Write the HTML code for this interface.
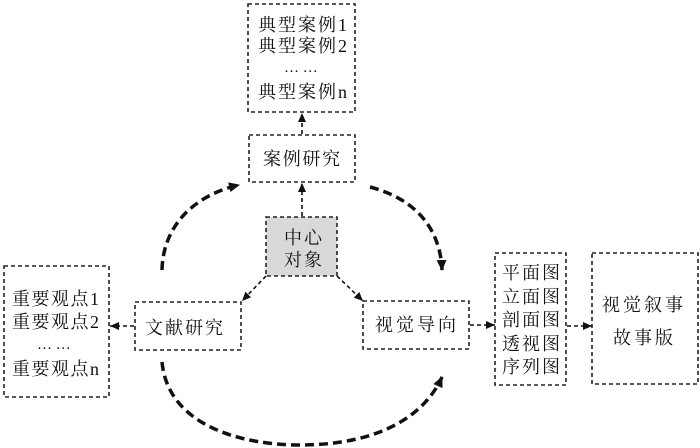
<!DOCTYPE html>
<html><head><meta charset="utf-8"><style>
html,body{margin:0;padding:0;background:#fff;}
svg{display:block;}
text{font-family:"Liberation Serif","Noto Serif CJK SC",serif;font-size:18px;fill:#111;}
</style></head><body>
<svg width="700" height="448" viewBox="0 0 700 448" xmlns="http://www.w3.org/2000/svg">
<defs>
<marker id="a" markerUnits="userSpaceOnUse" markerWidth="12" markerHeight="10" refX="9" refY="4" orient="auto">
<path d="M0,0 L9,4 L0,8 Z" fill="#111"/>
</marker>
<marker id="b" markerUnits="userSpaceOnUse" markerWidth="14" markerHeight="12" refX="10" refY="5" orient="auto">
<path d="M0,0 L11,5 L0,10 Z" fill="#111"/>
</marker>
</defs>
<g fill="none" stroke="#222" stroke-width="1.6" stroke-dasharray="4 3">
<rect x="248" y="4" width="107" height="108"/>
<rect x="249" y="135" width="106" height="47"/>
<rect x="266" y="217" width="71" height="59" fill="#d9d9d9"/>
<rect x="135" y="302" width="106" height="48"/>
<rect x="4" y="266" width="105" height="131"/>
<rect x="363" y="301" width="106" height="48"/>
<rect x="495" y="253" width="71" height="132"/>
<rect x="592" y="253" width="106" height="131"/>
</g>
<g fill="none" stroke="#111" stroke-width="1.6" stroke-dasharray="4 3">
<line x1="302" y1="134" x2="302" y2="113" marker-end="url(#a)"/>
<line x1="302" y1="216" x2="302" y2="183" marker-end="url(#a)"/>
<line x1="266" y1="276" x2="242" y2="301" marker-end="url(#a)"/>
<line x1="337" y1="276" x2="363" y2="301" marker-end="url(#a)"/>
<line x1="134" y1="326" x2="110" y2="326" marker-end="url(#a)"/>
<line x1="470" y1="325" x2="495" y2="325" marker-end="url(#a)"/>
<line x1="567" y1="326" x2="592" y2="326" marker-end="url(#a)"/>
</g>
<g fill="none" stroke="#111" stroke-width="3.5" stroke-dasharray="9 5">
<path d="M162,270 C163,225 195,195 239,185" marker-end="url(#b)"/>
<path d="M370,187 C412,198 440,225 442,270" marker-end="url(#b)"/>
<path d="M162,362 C168,425 240,445 300,445 C380,445 425,415 442,377" marker-end="url(#b)"/>
</g>
<text x="258" y="31" letter-spacing="2">典型案例1</text>
<text x="258" y="52" letter-spacing="2">典型案例2</text>
<text x="284" y="72" style="font-size:15px">… …</text>
<text x="258" y="98" letter-spacing="2">典型案例n</text>
<text x="263" y="165" letter-spacing="1.7">案例研究</text>
<text x="284" y="244" letter-spacing="2">中心</text>
<text x="284" y="266" letter-spacing="2">对象</text>
<text x="145" y="334" letter-spacing="2">文献研究</text>
<text x="12" y="305" letter-spacing="1.5">重要观点1</text>
<text x="12" y="328" letter-spacing="1.5">重要观点2</text>
<text x="37" y="349" style="font-size:15px">… …</text>
<text x="12" y="375" letter-spacing="1.5">重要观点n</text>
<text x="375" y="331" letter-spacing="3">视觉导向</text>
<text x="502" y="279" letter-spacing="2">平面图</text>
<text x="502" y="303" letter-spacing="2">立面图</text>
<text x="502" y="326" letter-spacing="2">剖面图</text>
<text x="502" y="350" letter-spacing="2">透视图</text>
<text x="502" y="373" letter-spacing="2">序列图</text>
<text x="602" y="311" letter-spacing="3">视觉叙事</text>
<text x="613" y="344" letter-spacing="3">故事版</text>
</svg>
</body></html>
